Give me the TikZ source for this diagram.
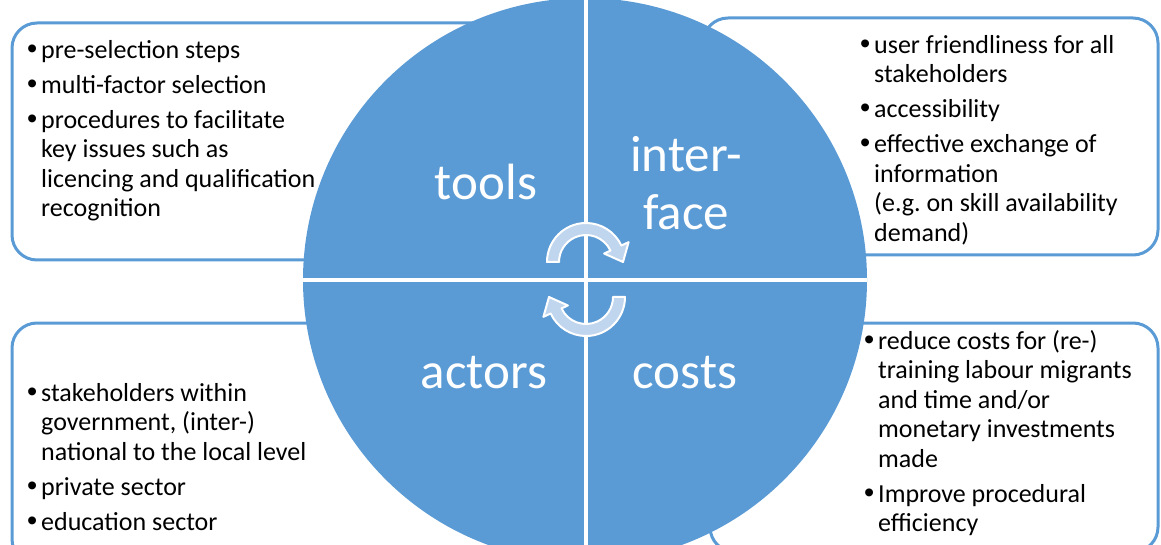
\documentclass[tikz,border=0pt]{standalone}
\usepackage{fontspec}
\setmainfont{Carlito}
\newfontfamily\dotfont{Liberation Sans}
\usetikzlibrary{calc}

\definecolor{wheelblue}{HTML}{5B9BD5}
\definecolor{arrowblue}{HTML}{C0D5EE}

% bullet list with hanging indent
\newenvironment{dotlist}{%
	\begin{list}{{\dotfont\fontsize{29}{29}\selectfont\textbullet}}{%
		\setlength{\leftmargin}{14pt}\setlength{\labelwidth}{14pt}%
		\setlength{\labelsep}{0pt}\setlength{\itemsep}{5.5pt}%
		\setlength{\topsep}{0pt}\setlength{\parsep}{0pt}\setlength{\partopsep}{0pt}%
		\def\makelabel##1{##1\hfil}}\raggedright\frenchspacing}
	{\end{list}}
\newcommand{\listbox}[1]{\parbox[t]{330pt}{\begin{dotlist}#1\end{dotlist}}}

\tikzset{
	framebox/.style={draw=wheelblue, line width=3pt, rounded corners=25pt},
	quarter/.style={text=white, font=\fontsize{51}{58}\selectfont, inner sep=0pt, align=center},
	listtext/.style={inner sep=0pt, anchor=north west, font=\fontsize{26}{29.5}\selectfont},
	turnarrow/.style={fill=arrowblue, draw=white, line width=2pt, line join=round},
}

\begin{document}
\begin{tikzpicture}[x=1pt, y=1pt]
		%%%%% START %%%%%
		\useasboundingbox (0,0) rectangle (1161,544);
		\clip (0,0) rectangle (1161,544);
		
		% frames behind the wheel
		\draw[framebox] (12,521) rectangle (500,284);
		\draw[framebox] (703,526) rectangle (1158,289);
		\draw[framebox] (12,221) rectangle (500,-20);
		\draw[framebox] (710,221) rectangle (1158,-8);
		
		% the wheel
		\fill[wheelblue] (585,264) circle (282);
		\draw[white, line width=4.5pt] (586,264-282) -- (586,264+282);
		\draw[white, line width=4.5pt] (303,264) -- (867,264);
		
		\node[quarter, anchor=base] (tools) at (486,344) {tools};
		\node[quarter, anchor=base] (interface) at (686,314) {inter-\\face};
		\node[quarter, anchor=base] (actors) at (484,156) {actors};
		\node[quarter, anchor=base] (costs) at (685,156) {costs};
		
		% turning arrows in the middle
		\begin{scope}[shift={(586,282)}]
			\draw[turnarrow] (180:39) arc[start angle=180, end angle=25, radius=39]
				-- (25:47) -- (0:37) -- (25:20) -- (25:27)
				arc[start angle=25, end angle=180, radius=27] -- cycle;
		\end{scope}
		\begin{scope}[shift={(586,247)}, rotate=180]
			\draw[turnarrow] (180:39) arc[start angle=180, end angle=25, radius=39]
				-- (25:47) -- (0:37) -- (25:20) -- (25:27)
				arc[start angle=25, end angle=180, radius=27] -- cycle;
		\end{scope}
		
		% lists
		\node[listtext] (toolslist) at (27,504) {\listbox{%
				\item pre-selection steps
				\item multi-factor selection
				\item procedures to facilitate\newline key issues such as\newline licencing and qualification\newline recognition}};
		\node[listtext] (interfacelist) at (860,509) {\listbox{%
				\item user friendliness for all\newline stakeholders
				\item accessibility
				\item effective exchange of\newline information\newline (e.g. on skill availability\newline demand)}};
		\node[listtext] (actorslist) at (27,161) {\listbox{%
				\item stakeholders within\newline government, (inter-)\newline national to the local level
				\item private sector
				\item education sector}};
		\node[listtext] (costslist) at (864,214) {\listbox{%
				\item reduce costs for (re-)\newline training labour migrants\newline and time and/or\newline monetary investments\newline made
				\item Improve procedural\newline efficiency}};
		
		%%%%% END %%%%%
\end{tikzpicture}
\end{document}
